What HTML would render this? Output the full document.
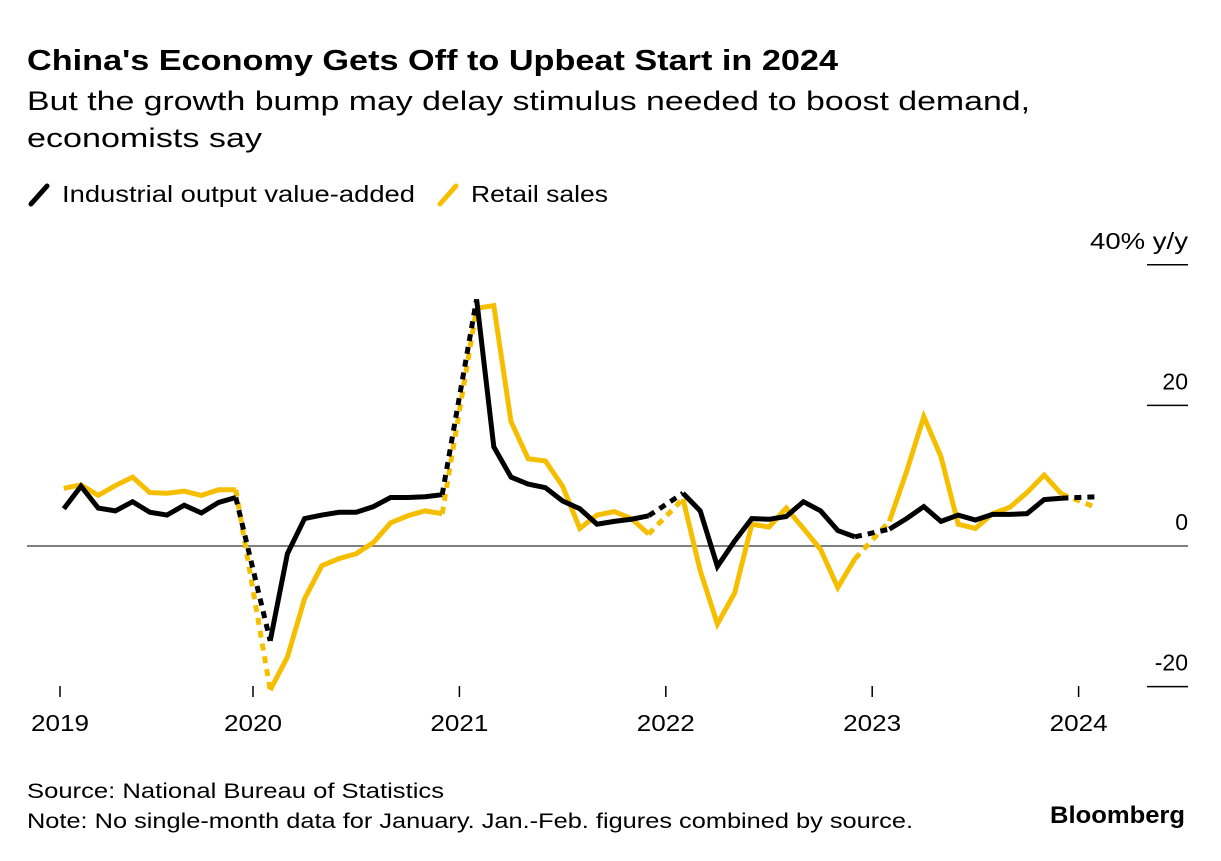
<!DOCTYPE html>
<html><head><meta charset="utf-8"><style>
body{margin:0;width:1221px;height:856px;background:#fff;font-family:"Liberation Sans",Arial,sans-serif;overflow:hidden}
svg text{font-family:"Liberation Sans",Arial,sans-serif}
</style></head><body>
<svg width="1221" height="856">
<text x="27" y="70" font-size="29" font-weight="bold" fill="#000" textLength="811" lengthAdjust="spacingAndGlyphs">China's Economy Gets Off to Upbeat Start in 2024</text>
<text x="27" y="110" font-size="27" fill="#000" textLength="1003" lengthAdjust="spacingAndGlyphs">But the growth bump may delay stimulus needed to boost demand,</text>
<text x="27" y="147" font-size="27" fill="#000" textLength="235" lengthAdjust="spacingAndGlyphs">economists say</text>
<g>
<line x1="31" y1="204" x2="47" y2="186" stroke="#000" stroke-width="5" stroke-linecap="round"/>
<text x="62" y="202" font-size="23" textLength="353" lengthAdjust="spacingAndGlyphs">Industrial output value-added</text>
<line x1="440" y1="204" x2="456" y2="186" stroke="#f5bf00" stroke-width="5" stroke-linecap="round"/>
<text x="471" y="202" font-size="23" textLength="137" lengthAdjust="spacingAndGlyphs">Retail sales</text>
</g>
<g id="axes"></g>
<g id="series"></g>
<text x="27" y="798" font-size="21" textLength="417" lengthAdjust="spacingAndGlyphs">Source: National Bureau of Statistics</text>
<text x="27" y="828" font-size="21" textLength="886" lengthAdjust="spacingAndGlyphs">Note: No single-month data for January. Jan.-Feb. figures combined by source.</text>
<text x="1185" y="823" font-size="24" font-weight="bold" text-anchor="end" textLength="135" lengthAdjust="spacingAndGlyphs">Bloomberg</text>
</svg>
<script>
// months: Feb..Dec each year 2019-2023, then Feb 2024
const years = [2019, 2020, 2021, 2022, 2023, 2024];
const industrial = [
 [5.3,8.5,5.4,5.0,6.3,4.8,4.4,5.8,4.7,6.2,6.9],
 [-13.5,-1.1,3.9,4.4,4.8,4.8,5.6,6.9,6.9,7.0,7.3],
 [35.1,14.1,9.8,8.8,8.3,6.4,5.3,3.1,3.5,3.8,4.3],
 [7.5,5.0,-2.9,0.7,3.9,3.8,4.2,6.3,5.0,2.2,1.3],
 [2.4,3.9,5.6,3.5,4.4,3.7,4.5,4.5,4.6,6.6,6.8],
 [7.0]
];
const retail = [
 [8.2,8.7,7.2,8.6,9.8,7.6,7.5,7.8,7.2,8.0,8.0],
 [-20.5,-15.8,-7.5,-2.8,-1.8,-1.1,0.5,3.3,4.3,5.0,4.6],
 [33.8,34.2,17.7,12.4,12.1,8.5,2.5,4.4,4.9,3.9,1.7],
 [6.7,-3.5,-11.1,-6.7,3.1,2.7,5.4,2.5,-0.5,-5.9,-1.8],
 [3.5,10.6,18.4,12.7,3.1,2.5,4.6,5.5,7.6,10.1,7.4],
 [5.5]
];
const yTicks = [-20, 0, 20, 40];
const yTickLabels = ["-20", "0", "20", "40% y/y"];

const NS = "http://www.w3.org/2000/svg";
const xJan2020 = 253, monthW = 17.2;
function x(yearIdx, monthIdx){ return xJan2020 + ((years[yearIdx]-2020)*12 + monthIdx)*monthW; }
function y(v){ return 546 - v*7.03; }
function mk(tag, attrs, parent){ const e=document.createElementNS(NS,tag); for(const k in attrs) e.setAttribute(k,attrs[k]); parent.appendChild(e); return e; }

const axes = document.getElementById('axes');
yTicks.forEach((t,i)=>{
  const yy = y(t);
  if(t===0){
    const l = mk('line',{x1:27,x2:1188,y1:yy,y2:yy,stroke:'#555','stroke-width':1.5},axes);
    
    
  } else {
    const l = mk('line',{x1:1147,x2:1188,y1:yy,y2:yy,stroke:'#000','stroke-width':1.5},axes);
    
    
  }
  const attrs = {x:1188,y:yy-16,'font-size':23,'text-anchor':'end'};
  if(t===40){ attrs.textLength = 98; attrs.lengthAdjust='spacingAndGlyphs'; }
  const tx = mk('text',attrs,axes);
  tx.textContent = yTickLabels[i];
  
  
});
years.forEach((yr,i)=>{
  const xx = i===0 ? 60 : x(i,0);
  const l = mk('line',{x1:xx,x2:xx,y1:686,y2:697,stroke:'#000','stroke-width':1.5},axes);
  
  
  const t = mk('text',{x:xx,y:731,'font-size':23,'text-anchor':'middle',textLength:58,lengthAdjust:'spacingAndGlyphs'},axes);
  t.textContent = yr;
  
  
});

const sg = document.getElementById('series');
function draw(data, color, name){
  const g = mk('g',{},sg);
  
  
  let prevEnd = null;
  data.forEach((yrVals, yi)=>{
    const pts = yrVals.map((v,mi)=>[x(yi,mi+1), y(v)]);
    if(prevEnd){
      const d = mk('line',{x1:prevEnd[0],y1:prevEnd[1],x2:pts[0][0],y2:pts[0][1],stroke:color,'stroke-width':5,'stroke-dasharray':'7 6','stroke-linecap':'butt'},g);
      
      
    }
    if(pts.length>1){
      const p = mk('polyline',{points:pts.map(p=>p.join(',')).join(' '),fill:'none',stroke:color,'stroke-width':5,'stroke-linejoin':'miter','stroke-miterlimit':3},g);
      
      
    }
    prevEnd = pts[pts.length-1];
  });
}
draw(retail,'#f5bf00','retail-sales');
draw(industrial,'#000','industrial-output');
</script>
</body></html>
